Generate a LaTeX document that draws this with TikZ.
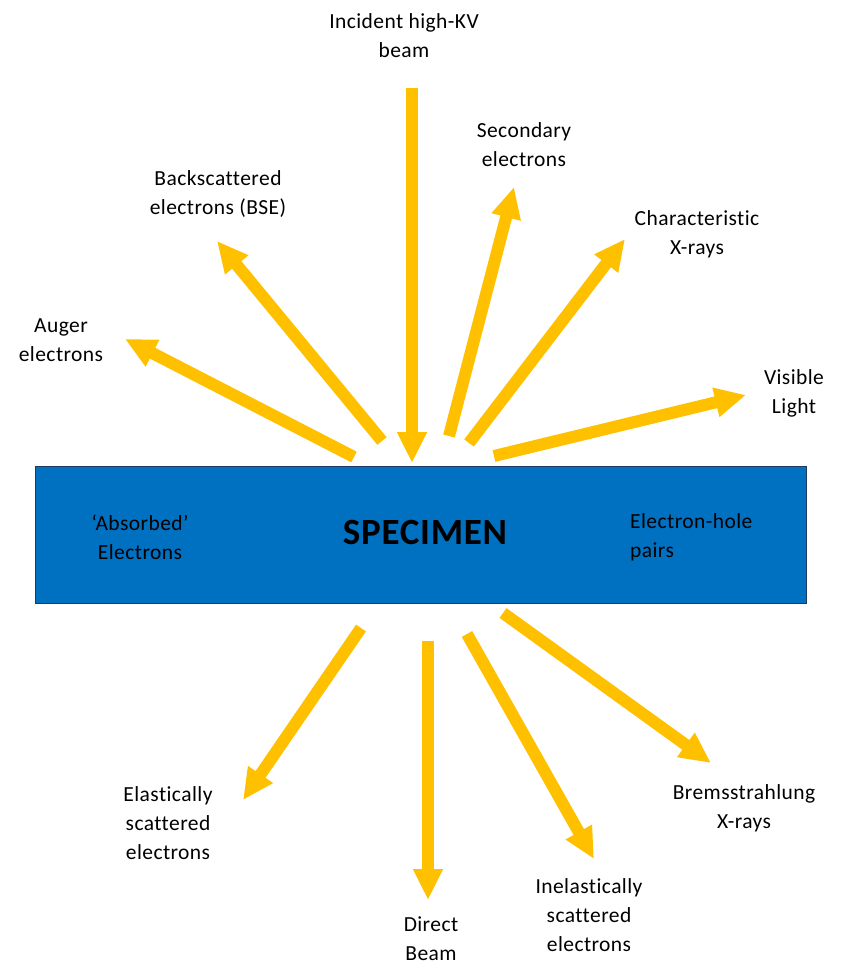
\documentclass[tikz,border=0pt]{standalone}
\usepackage{fontspec}
\setmainfont{Carlito}[LetterSpace=2,Ligatures={NoCommon,NoContextual}]
\usetikzlibrary{arrows.meta}
\definecolor{arrowgold}{HTML}{FFC000}
\definecolor{specblue}{HTML}{0070C0}
\definecolor{specedge}{HTML}{1F3A60}
\tikzset{
  fat/.style={line width=12pt, draw=arrowgold, line cap=butt,
    -{Triangle[width=28pt,length=31pt]}},
  lbl/.style={align=center, font=\fontsize{21.5}{29}\selectfont, text=black, inner sep=0pt},
}
\begin{document}
\begin{tikzpicture}[x=1pt,y=-1pt]
\useasboundingbox (0,0) rectangle (843,965);
% specimen
\node[draw=specedge, line width=1.2pt, fill=specblue, minimum width=771pt, minimum height=137pt, inner sep=0pt, anchor=north west] (spec) at (35,466) {};
\node[font=\fontsize{37}{40}\selectfont\bfseries, inner sep=0pt] (spectxt) at (425,532) {SPECIMEN};
\node[lbl] (abs) at (140,537) {‘Absorbed’\\Electrons};
\node[lbl, align=left, anchor=west] (ehp) at (630,537) {Electron-hole\\pairs};
% labels
\node[lbl] (inc) at (404,36) {Incident high-KV\\beam};
\node[lbl] (sec) at (524,145) {Secondary\\electrons};
\node[lbl] (bse) at (218,194) {Backscattered\\electrons (BSE)};
\node[lbl] (chx) at (697,234) {Characteristic\\X-rays};
\node[lbl] (aug) at (61,340) {Auger\\electrons};
\node[lbl] (vis) at (794,393) {Visible\\Light};
\node[lbl] (ela) at (168,823) {Elastically\\scattered\\electrons};
\node[lbl] (dir) at (431,939) {Direct\\Beam};
\node[lbl] (ine) at (589,915) {Inelastically\\scattered\\electrons};
\node[lbl] (brm) at (744,808) {Bremsstrahlung\\X-rays};
% arrow end points
\coordinate (incA) at (412,88);  \coordinate (incB) at (412,463);
\coordinate (secA) at (449,436); \coordinate (secB) at (514,187);
\coordinate (chxA) at (469,443); \coordinate (chxB) at (625,239);
\coordinate (visA) at (494,456); \coordinate (visB) at (746,395);
\coordinate (bseA) at (382,441); \coordinate (bseB) at (217,241);
\coordinate (augA) at (354,457); \coordinate (augB) at (125,339);
\coordinate (elaA) at (361,628); \coordinate (elaB) at (243,800);
\coordinate (dirA) at (428,641); \coordinate (dirB) at (428,900);
\coordinate (ineA) at (467,634); \coordinate (ineB) at (594,859);
\coordinate (brmA) at (503,613); \coordinate (brmB) at (711,763);
% arrows
\draw[fat] (incA) -- (incB);
\draw[fat] (secA) -- (secB);
\draw[fat] (chxA) -- (chxB);
\draw[fat] (visA) -- (visB);
\draw[fat] (bseA) -- (bseB);
\draw[fat] (augA) -- (augB);
\draw[fat] (elaA) -- (elaB);
\draw[fat] (dirA) -- (dirB);
\draw[fat] (ineA) -- (ineB);
\draw[fat] (brmA) -- (brmB);
\end{tikzpicture}
\end{document}
